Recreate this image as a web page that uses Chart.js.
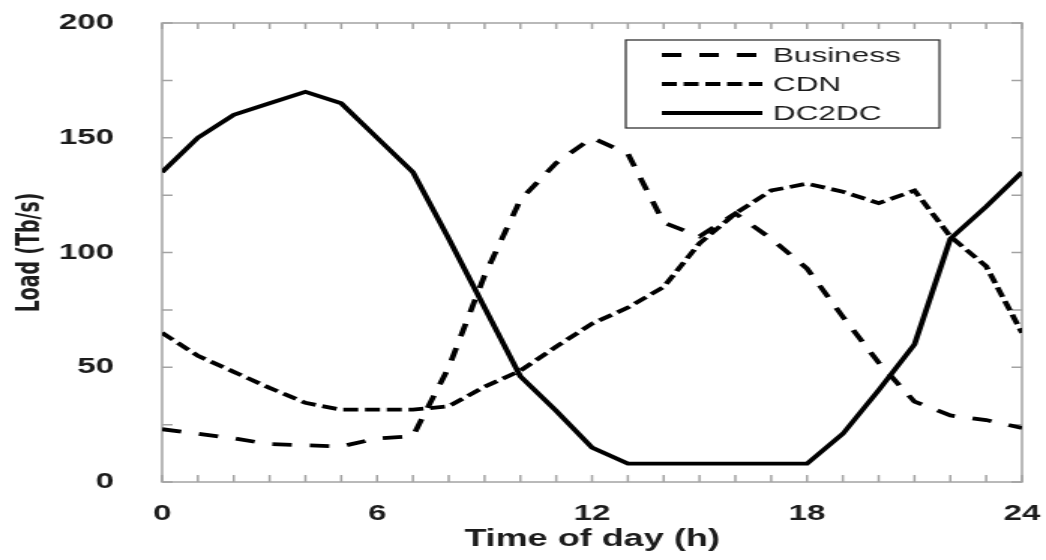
<!DOCTYPE html>
<html>
<head>
<meta charset="utf-8">
<script src="https://cdn.jsdelivr.net/npm/chart.js@4.4.1/dist/chart.umd.min.js"></script>
<style>
  html, body { margin: 0; padding: 0; background: #fff; overflow: hidden; }
  /* the reference figure is stretched sideways, so draw narrow and widen */
  #wrap { width: 697px; height: 560px; transform: scaleX(1.5007); transform-origin: 0 0; }
</style>
</head>
<body>
<div id="wrap"><canvas id="chart" width="697" height="560"></canvas></div>
<script>
const hours = [0, 1, 2, 3, 4, 5, 6, 7, 8, 9, 10, 11, 12, 13, 14, 15, 16, 17, 18, 19, 20, 21, 22, 23, 24];
const business = [23, 21, 19, 16.5, 16, 15.5, 19, 20, 50, 90, 123, 139, 150, 143, 113, 107, 117, 106, 93, 72, 52, 35, 29, 27, 23.5];
const cdn = [65, 55, 48, 41, 34.5, 31.5, 31.5, 31.5, 33, 41.5, 48.5, 59, 69, 76, 85, 104, 117, 127, 130, 126.5, 121.5, 127, 107, 94, 65];
const dc2dc = [135, 150, 160, 165, 170, 165, 150, 135, 106, 76, 46, 31, 15, 8, 8, 8, 8, 8, 8, 21, 40, 60, 106, 120, 135];
const seriesNames = ['Business', 'CDN', 'DC2DC'];
const xTicks = [0, 6, 12, 18, 24];
const yTicks = [0, 50, 100, 150, 200];

const axisGray = '#a3a3a3';
const textColor = '#1c1c1c';
const tickFont = { family: "'Liberation Sans', Arial, sans-serif", size: 22, weight: 'bold' };

const pts = arr => arr.map((v, i) => ({ x: hours[i], y: v }));

// box round the plot with small inward ticks on all four sides
const frameTicks = {
    id: 'frameTicks',
    beforeDatasetsDraw(chart) {
        const { ctx, chartArea: a, scales: { x, y } } = chart;
        ctx.save();
        ctx.strokeStyle = axisGray;
        ctx.lineWidth = 1.5;
        ctx.strokeRect(a.left, a.top, a.right - a.left, a.bottom - a.top);
        ctx.beginPath();
        x.ticks.forEach(t => {
            const px = x.getPixelForValue(t.value);
            ctx.moveTo(px, a.bottom); ctx.lineTo(px, a.bottom - 7);
            ctx.moveTo(px, a.top); ctx.lineTo(px, a.top + 6);
        });
        y.ticks.forEach(t => {
            const py = y.getPixelForValue(t.value);
            ctx.moveTo(a.left, py); ctx.lineTo(a.left + 7, py);
            ctx.moveTo(a.right, py); ctx.lineTo(a.right - 7, py);
        });
        ctx.stroke();
        ctx.restore();
    }
};

// legend box inside the plot, upper right
const legendBox = {
    id: 'legendBox',
    afterDraw(chart) {
        const ctx = chart.ctx;
        const box = { l: 417, t: 40, r: 626, b: 128 };
        ctx.save();
        ctx.fillStyle = '#fff';
        ctx.fillRect(box.l, box.t, box.r - box.l, box.b - box.t);
        ctx.strokeStyle = '#333';
        ctx.lineWidth = 1.3;
        ctx.strokeRect(box.l, box.t, box.r - box.l, box.b - box.t);
        ctx.font = "21px 'Liberation Sans', Arial, sans-serif";
        ctx.textBaseline = 'middle';
        chart.data.datasets.forEach((ds, i) => {
            const yy = 55 + i * 29;
            ctx.strokeStyle = ds.borderColor;
            ctx.lineWidth = ds.borderWidth;
            ctx.setLineDash(ds.borderDash || []);
            ctx.beginPath();
            ctx.moveTo(441, yy); ctx.lineTo(508, yy);
            ctx.stroke();
            ctx.setLineDash([]);
            ctx.fillStyle = textColor;
            ctx.fillText(ds.label, 515, yy + 1);
        });
        ctx.restore();
    }
};

new Chart(document.getElementById('chart'), {
    type: 'line',
    data: {
        datasets: [
            { label: seriesNames[0], data: pts(business), borderColor: '#000', borderWidth: 3.8, borderDash: [13, 12] },
            { label: seriesNames[1], data: pts(cdn), borderColor: '#000', borderWidth: 3.8, borderDash: [10, 4.5] },
            { label: seriesNames[2], data: pts(dc2dc), borderColor: '#000', borderWidth: 3.8 }
        ]
    },
    options: {
        responsive: false,
        animation: false,
        elements: { point: { radius: 0 }, line: { tension: 0 } },
        layout: { padding: { left: 0, right: 16, top: 23, bottom: 0 } },
        plugins: { legend: { display: false }, tooltip: { enabled: false } },
        scales: {
            x: {
                type: 'linear', min: 0, max: 24,
                grid: { display: false }, border: { display: false },
                afterFit: s => { s.height = 78; s.paddingLeft = 0; s.paddingRight = 0; },
                ticks: {
                    stepSize: 1, autoSkip: false, maxRotation: 0, padding: 11,
                    color: textColor, font: tickFont,
                    callback: v => xTicks.includes(v) ? v : ''
                },
                title: {
                    display: true, text: 'Time of day (h)', color: textColor,
                    font: { family: "'Liberation Sans', Arial, sans-serif", size: 24, weight: 'bold' },
                    padding: { top: 0, bottom: 6 }
                }
            },
            y: {
                min: 0, max: 200,
                grid: { display: false }, border: { display: false },
                afterFit: s => { s.width = 108; s.paddingTop = 0; s.paddingBottom = 0; },
                ticks: {
                    stepSize: 25, padding: 24,
                    color: textColor, font: tickFont,
                    callback: v => yTicks.includes(v) ? v : ''
                },
                title: {
                    display: true, text: 'Load (Tb/s)', color: textColor,
                    font: { family: "'Liberation Sans Narrow', 'DejaVu Sans Condensed', sans-serif", size: 21, weight: 'bold' },
                    padding: { top: 8, bottom: 0 }
                }
            }
        }
    },
    plugins: [frameTicks, legendBox]
});
</script>
</body>
</html>
